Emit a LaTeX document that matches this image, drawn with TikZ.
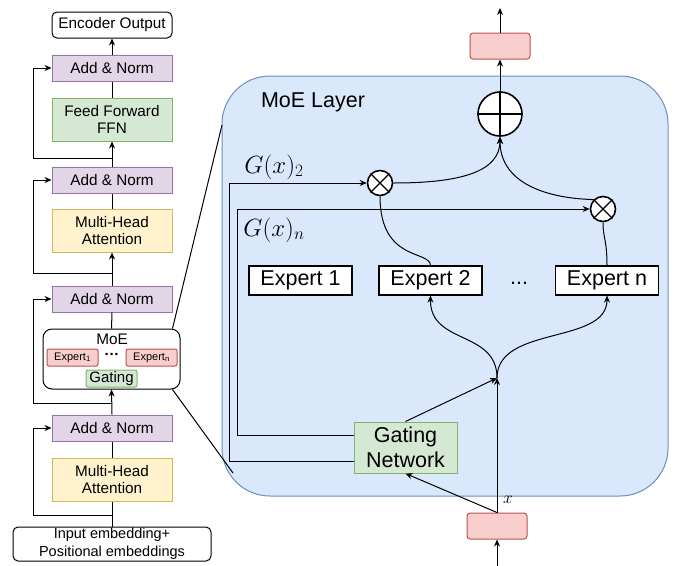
\documentclass[tikz,border=0pt]{standalone}
\usepackage{fontspec}
\setmainfont{Liberation Sans}
\usetikzlibrary{arrows.meta, positioning, calc}
\definecolor{normfill}{HTML}{E1D5E7}
\definecolor{normdraw}{HTML}{9673A6}
\definecolor{ffnfill}{HTML}{D5E8D4}
\definecolor{ffndraw}{HTML}{82B366}
\definecolor{attfill}{HTML}{FFF2CC}
\definecolor{attdraw}{HTML}{D6B656}
\definecolor{vecfill}{HTML}{F8CECC}
\definecolor{vecdraw}{HTML}{B85450}
\definecolor{layerfill}{HTML}{DAE8FC}
\definecolor{layerdraw}{HTML}{6C8EBF}
\begin{document}
\begin{tikzpicture}[
        x=1pt, y=-1pt,
        line width=1pt,
        box/.style={rectangle, minimum width=120pt, minimum height=26pt, inner sep=0pt, align=center, font=\fontsize{15.3}{17}\selectfont},
        norm/.style={box, draw=normdraw, fill=normfill},
        ffn/.style={box, draw=ffndraw, fill=ffnfill, minimum height=43pt},
        attn/.style={box, draw=attdraw, fill=attfill, minimum height=43pt},
        plain/.style={box, draw=black, fill=white, rounded corners=5pt},
        tiny/.style={rectangle, rounded corners=2pt, minimum width=51pt, minimum height=17pt, inner sep=0pt, font=\fontsize{11}{12}\selectfont},
        expert/.style={rectangle, draw=black, fill=white, line width=1.2pt, minimum width=103pt, minimum height=29pt, inner sep=0pt, font=\fontsize{21.5}{24}\selectfont},
        op/.style={circle, draw=black, fill=white, line width=1.6pt, inner sep=0pt},
        vec/.style={rectangle, rounded corners=3pt, draw=vecdraw, fill=vecfill, minimum width=60pt, minimum height=26pt},
        arr/.style={-{Stealth[length=7pt, width=6pt]}, line width=1pt},
        lbl/.style={inner sep=0pt}
    ]
        \useasboundingbox (0,0) rectangle (676,565);
        % encoder stack
        \node[plain] (enc) at (112,25) {Encoder Output};
        \node[norm] (an1) at (112,68) {Add \& Norm};
        \node[ffn] (ffn) at (112,119.5) {Feed Forward\\FFN};
        \node[norm] (an2) at (112,180) {Add \& Norm};
        \node[attn] (mha1) at (112,230.5) {Multi-Head\\Attention};
        \node[norm] (an3) at (112,299) {Add \& Norm};
        \node[plain, minimum width=137pt, minimum height=60pt, rounded corners=9pt] (moe) at (111.5,359) {};
        \node[lbl, font=\fontsize{15.3}{17}\selectfont] (moetxt) at (112,339) {MoE};
        \node[tiny, draw=vecdraw, fill=vecfill] (ex1) at (72.5,357.5) {Expert\textsubscript{1}};
        \node[tiny, draw=vecdraw, fill=vecfill] (exn) at (151.5,357.5) {Expert\textsubscript{n}};
        \node[lbl, font=\fontsize{15}{17}\selectfont\bfseries] (exdots) at (112,356) {···};
        \node[tiny, draw=ffndraw, fill=ffnfill, font=\fontsize{15}{17}\selectfont] (gsmall) at (111.5,378.5) {Gating};
        \node[norm] (an4) at (112,428) {Add \& Norm};
        \node[attn] (mha2) at (112,479.5) {Multi-Head\\Attention};
        \node[plain, minimum width=198pt, minimum height=34pt, font=\fontsize{14.5}{18}\selectfont] (inp) at (112,544) {Input embedding+\\Positional embeddings};
        \draw (inp.north) -- (mha2.south);
        \draw (mha2.north) -- (an4.south);
        \draw[arr] (an4.north) -- (moe.south);
        \draw (moe.north) -- (an3.south);
        \draw[arr] (an3.north) -- (mha1.south);
        \draw (mha1.north) -- (an2.south);
        \draw[arr] (an2.north) -- (ffn.south);
        \draw (ffn.north) -- (an1.south);
        \draw[arr] (an1.north) -- (enc.south);
        \coordinate (r4) at (112,515);
        \coordinate (r3) at (112,403);
        \coordinate (r2) at (112,273);
        \coordinate (r1) at (112,158);
        \draw[arr] (r4) -- ++(-79,0) |- (an4.west);
        \draw[arr] (r3) -- ++(-79,0) |- (an3.west);
        \draw[arr] (r2) -- ++(-79,0) |- (an2.west);
        \draw[arr] (r1) -- ++(-79,0) |- (an1.west);
        % moe layer
        \node[rectangle, draw=layerdraw, fill=layerfill, rounded corners=48pt, minimum width=446pt, minimum height=420pt] (layer) at (445,286) {};
        \node[lbl, font=\fontsize{21.5}{24}\selectfont] (layertxt) at (313,102) {MoE Layer};
        \coordinate (zt) at (222,125);
        \coordinate (zb) at (233,473);
        \draw ([xshift=-8pt]moe.north east) -- (zt);
        \draw ([xshift=-8pt]moe.south east) -- (zb);
        \node[vec] (outv) at (500,46) {};
        \coordinate (out) at (500,8);
        \node[op, minimum size=44pt] (plus) at (500,114) {};
        \draw[line width=1.6pt] (plus.north) -- (plus.south) (plus.west) -- (plus.east);
        \node[op, minimum size=25pt] (m1) at (380,183) {};
        \node[op, minimum size=25pt] (m2) at (603,209) {};
        \draw[line width=1.3pt] (m1.north west) -- (m1.south east) (m1.north east) -- (m1.south west);
        \draw[line width=1.3pt] (m2.north west) -- (m2.south east) (m2.north east) -- (m2.south west);
        \node[expert] (e1) at (300.5,280.5) {Expert 1};
        \node[expert] (e2) at (430.5,280.5) {Expert 2};
        \node[expert] (en) at (607,280.5) {Expert n};
        \node[lbl, font=\fontsize{21.5}{24}\selectfont] (edots) at (519,283) {...};
        \node[rectangle, draw=ffndraw, fill=ffnfill, minimum width=103pt, minimum height=51pt, inner sep=0pt, align=center, font=\fontsize{21.5}{25}\selectfont] (gate) at (405.5,447.5) {Gating\\Network};
        \node[vec] (inv) at (497,526) {};
        \coordinate (src) at (497,566);
        \coordinate (jn) at (497,378);
        \draw[arr] (src) -- (inv.south);
        \draw[arr] (inv.north) -- (jn);
        \draw[arr] (inv.north) -- (gate.south);
        \draw[arr] (gate.north) -- (jn);
        \draw[arr] (jn) .. controls (497,330) and (430,345) .. (e2.south);
        \draw[arr] (jn) .. controls (497,325) and (607,345) .. (en.south);
        \draw (e2.north) .. controls (430,250) and (380,262) .. (m1.south);
        \draw (en.north) .. controls (607,240) and (603,238) .. (m2.south);
        \draw[arr] (m1.east) .. controls (460,183) and (500,172) .. (plus.south);
        \draw[arr] (m2.north west) .. controls (540,198) and (500,180) .. (plus.south);
        \draw[arr] ([yshift=-13.5pt]gate.west) -- ++(-124,0) |- (m1.west);
        \draw[arr] ([yshift=12.5pt]gate.west) -- ++(-116,0) |- (m2.west);
        \draw[arr] (plus.north) -- (outv.south);
        \draw[arr] (outv.north) -- (out);
        \node[lbl, font=\fontsize{24}{28}\selectfont] (g2) at (274,167) {$G(x)_2$};
        \node[lbl, font=\fontsize{24}{28}\selectfont] (gn) at (274,230) {$G(x)_n$};
        \node[lbl, font=\fontsize{18}{20}\selectfont] (xlbl) at (508,500) {$x$};
\end{tikzpicture}
\end{document}
